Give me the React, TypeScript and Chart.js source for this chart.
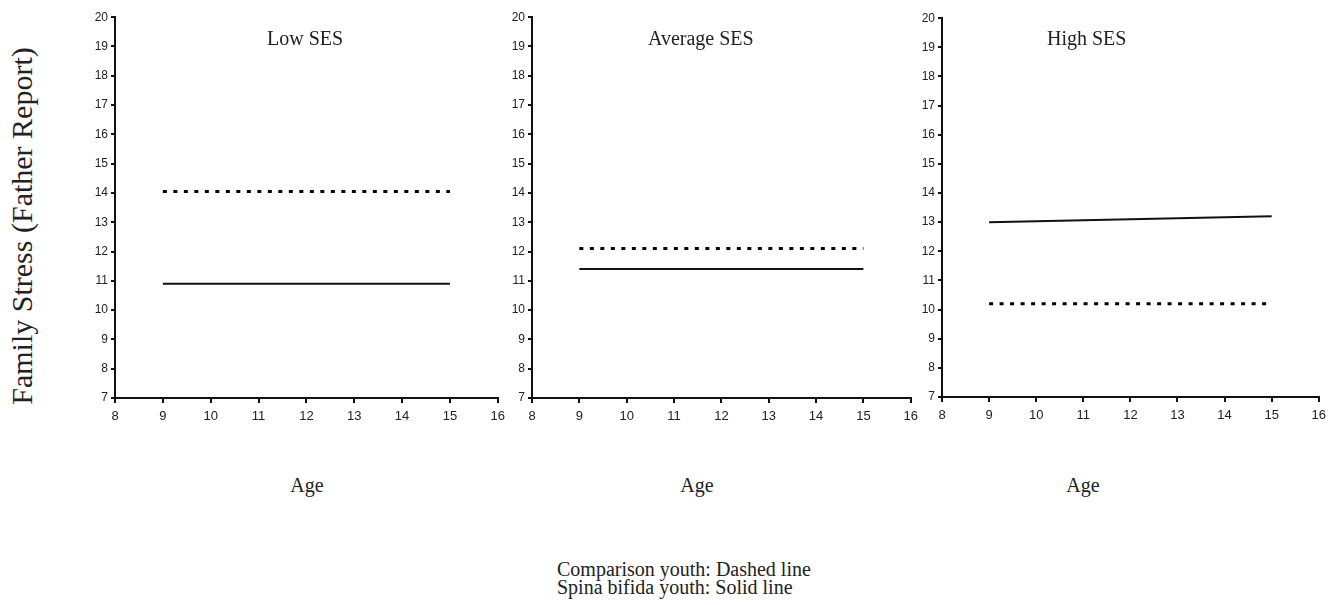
import React, { useEffect, useRef } from "react";
import { Chart, registerables } from "chart.js";

Chart.register(...registerables);

// ---- data ----
const ages = [9, 15];
const xTicks = [8, 9, 10, 11, 12, 13, 14, 15, 16];
const yTicks = [7, 8, 9, 10, 11, 12, 13, 14, 15, 16, 17, 18, 19, 20];
const panelTitles = ["Low SES", "Average SES", "High SES"];
const comparisonLow = [14.05, 14.05];
const spinaLow = [10.9, 10.9];
const comparisonAvg = [12.1, 12.1];
const spinaAvg = [11.4, 11.4];
const comparisonHigh = [10.2, 10.2];
const spinaHigh = [13.0, 13.2];
const yTitle = "Family Stress (Father Report)";
const xTitle = "Age";
const legendLines = ["Comparison youth: Dashed line", "Spina bifida youth: Solid line"];

const comparisonSeries = [comparisonLow, comparisonAvg, comparisonHigh];
const spinaSeries = [spinaLow, spinaAvg, spinaHigh];

// ---- layout ----
const panels = [
  { L: 115, R: 499, T: 15, B: 398, titleX: 267, ageX: 307 },
  { L: 532, R: 912, T: 15, B: 398, titleX: 648, ageX: 697 },
  { L: 942, R: 1320, T: 16, B: 397, titleX: 1047, ageX: 1083 },
];
const Y_AXIS_W = 30;
const X_AXIS_H = 32;
const PAD_TOP = 8;
const PAD_RIGHT = 12;

const serif = "'Liberation Serif', 'Times New Roman', serif";
const tickFont = "'Liberation Sans Narrow', 'Arial Narrow', 'Liberation Sans', sans-serif";

function Panel({ idx }: { idx: number }) {
  const ref = useRef<HTMLCanvasElement | null>(null);
  const p = panels[idx];
  const w = p.R - p.L + Y_AXIS_W + PAD_RIGHT;
  const h = p.B - p.T + PAD_TOP + X_AXIS_H;

  useEffect(() => {
    if (!ref.current) return;
    const toPts = (ys: number[]) => ages.map((a, i) => ({ x: a, y: ys[i] }));
    const chart = new Chart(ref.current, {
      type: "line",
      data: {
        datasets: [
          {
            label: "Comparison youth",
            data: toPts(comparisonSeries[idx]),
            borderColor: "#000",
            borderWidth: 3,
            borderDash: [4, 6.5],
            borderCapStyle: "butt",
            pointRadius: 0,
            fill: false,
            tension: 0,
          },
          {
            label: "Spina bifida youth",
            data: toPts(spinaSeries[idx]),
            borderColor: "#111",
            borderWidth: 2,
            pointRadius: 0,
            fill: false,
            tension: 0,
          },
        ],
      },
      options: {
        animation: false,
        responsive: false,
        maintainAspectRatio: false,
        layout: { padding: { top: PAD_TOP, right: PAD_RIGHT, left: 0, bottom: 0 } },
        plugins: { legend: { display: false }, tooltip: { enabled: false }, title: { display: false } },
        scales: {
          x: {
            type: "linear",
            min: xTicks[0],
            max: xTicks[xTicks.length - 1],
            afterBuildTicks: (s: any) => {
              s.ticks = xTicks.map((v) => ({ value: v }));
            },
            afterFit: (s: any) => {
              s.height = X_AXIS_H;
            },
            ticks: {
              color: "#222",
              font: { family: tickFont, size: 13 },
              padding: 6,
              maxRotation: 0,
              autoSkip: false,
            },
            grid: {
              display: true,
              drawOnChartArea: false,
              drawTicks: true,
              tickLength: 5,
              color: "#111",
              lineWidth: 2,
            },
            border: { display: true, color: "#111", width: 2 },
          },
          y: {
            type: "linear",
            min: yTicks[0],
            max: yTicks[yTicks.length - 1],
            afterBuildTicks: (s: any) => {
              s.ticks = yTicks.map((v) => ({ value: v }));
            },
            afterFit: (s: any) => {
              s.width = Y_AXIS_W;
            },
            ticks: {
              color: "#222",
              font: { family: tickFont, size: 12 },
              padding: 3,
              autoSkip: false,
            },
            grid: {
              display: true,
              drawOnChartArea: false,
              drawTicks: true,
              tickLength: 4,
              color: "#111",
              lineWidth: 2,
            },
            border: { display: true, color: "#111", width: 2 },
          },
        },
      },
    } as any);
    return () => chart.destroy();
  }, [idx]);

  return (
    <canvas
      ref={ref}
      width={w}
      height={h}
      style={{
        position: "absolute",
        left: p.L - Y_AXIS_W,
        top: p.T - PAD_TOP,
        width: w,
        height: h,
      }}
    />
  );
}

export default function App() {
  return (
    <div
      style={{
        position: "fixed",
        left: 0,
        top: 0,
        width: 1334,
        height: 605,
        background: "#fff",
        overflow: "hidden",
        fontFamily: serif,
        color: "#222",
      }}
    >
      {panels.map((p, i) => (
        <React.Fragment key={i}>
          <Panel idx={i} />
          <div
            style={{
              position: "absolute",
              left: p.titleX,
              top: 28,
              fontSize: 20,
              lineHeight: "20px",
              whiteSpace: "nowrap",
            }}
          >
            {panelTitles[i]}
          </div>
          <div
            style={{
              position: "absolute",
              left: p.ageX,
              top: 475,
              transform: "translateX(-50%)",
              fontSize: 20,
              lineHeight: "20px",
              whiteSpace: "nowrap",
            }}
          >
            {xTitle}
          </div>
        </React.Fragment>
      ))}
      <div
        style={{
          position: "absolute",
          left: 22,
          top: 226,
          transform: "translate(-50%, -50%) rotate(-90deg)",
          fontSize: 30,
          lineHeight: 1,
          whiteSpace: "nowrap",
        }}
      >
        {yTitle}
      </div>
      <div
        style={{
          position: "absolute",
          left: 557,
          top: 560,
          fontSize: 20,
          lineHeight: "18px",
          whiteSpace: "nowrap",
        }}
      >
        {legendLines.map((t, i) => (
          <div key={i}>{t}</div>
        ))}
      </div>
    </div>
  );
}
